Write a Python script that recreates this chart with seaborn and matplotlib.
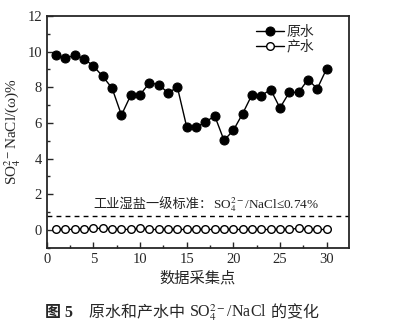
import matplotlib
matplotlib.use("Agg")
import matplotlib.pyplot as plt
from matplotlib.ticker import MultipleLocator
import matplotlib.transforms as mtransforms
import seaborn as sns
import pandas as pd

points = list(range(1, 31))
raw_water = [9.78, 9.64, 9.79, 9.60, 9.18, 8.61, 7.94, 6.44, 7.55, 7.58,
             8.24, 8.15, 7.68, 8.00, 5.77, 5.77, 6.03, 6.40, 5.02, 5.58,
             6.52, 7.58, 7.53, 7.87, 6.84, 7.71, 7.71, 8.43, 7.92, 9.03]
product_water = [0.02, 0.02, 0.03, 0.05, 0.08, 0.08, 0.06, 0.02, 0.03, 0.09,
                 0.02, 0.02, 0.02, 0.02, 0.02, 0.02, 0.02, 0.02, 0.02, 0.02,
                 0.02, 0.02, 0.02, 0.02, 0.02, 0.02, 0.09, 0.02, 0.02, 0.02]
standard = 0.76
series_names = ["原水", "产水"]

sns.set_style("ticks")
plt.rcParams['font.family'] = ['Liberation Serif', 'Noto Sans CJK SC']
plt.rcParams['mathtext.fontset'] = 'stix'

df = pd.DataFrame({"x": points * 2,
                   "y": raw_water + product_water,
                   "s": [series_names[0]] * 30 + [series_names[1]] * 30})

fig = plt.figure(figsize=(3.97, 3.25), dpi=100)
ax = fig.add_axes([0.118, 0.238, 0.761, 0.713])

sns.lineplot(data=df[df.s == series_names[0]], x="x", y="y", ax=ax,
             color="black", lw=1.0, marker="o", markersize=6.5,
             markerfacecolor="black", markeredgecolor="black",
             label=series_names[0])
sns.lineplot(data=df[df.s == series_names[1]], x="x", y="y", ax=ax,
             color="black", lw=1.0, marker="o", markersize=5.5,
             markerfacecolor="white", markeredgecolor="black", markeredgewidth=1.0,
             label=series_names[1])

ax.axhline(standard, color="black", lw=1.0, ls=(0, (3.5, 3)))

ax.set_xlim(0, 32.4)
ax.set_ylim(-1, 12)
ax.xaxis.set_major_locator(MultipleLocator(5))
ax.xaxis.set_minor_locator(MultipleLocator(2.5))
ax.yaxis.set_major_locator(MultipleLocator(2))
ax.yaxis.set_minor_locator(MultipleLocator(1))
ax.tick_params(which="both", direction="in", labelsize=10.5, width=1.0)
ax.tick_params(which="major", length=4)
ax.tick_params(which="minor", length=2.5)
for sp in ax.spines.values():
    sp.set_linewidth(1.3)
    sp.set_visible(True)

ax.set_xlabel("数据采集点", fontsize=11, labelpad=4)
ax.set_ylabel("SO$_4^{2-}$NaCl/(ω)%", fontsize=11, labelpad=3)

ax.legend(loc="upper left", frameon=False, fontsize=10,
          handlelength=2.0, handletextpad=0.2,
          labelspacing=0.1, bbox_to_anchor=(0.66, 1.0), borderpad=0.2)


def text_run(x, y, transform, pieces):
    renderer = fig.canvas.get_renderer()
    offset = 0.0
    for s, kw in pieces:
        tr = transform + mtransforms.Affine2D().translate(offset, 0)
        t = fig.text(x, y, s, transform=tr, ha="left", va="baseline", **kw)
        offset += t.get_window_extent(renderer=renderer).width


text_run(5.0, 1.2, ax.transData, [
    ("工业湿盐一级标准：", dict(fontsize=9.5, color="#222222")),
    ("SO$_4^{2-}$/NaCl≤0.74%", dict(fontsize=9.5, color="#222222")),
])

text_run(0.113, 0.025, fig.transFigure, [
    ("图 5", dict(fontsize=11.5, fontweight="bold")),
    ("    原水和产水中 ", dict(fontsize=11.5)),
    ("SO$_4^{2-}$/NaCl", dict(fontsize=11.5)),
    (" 的变化", dict(fontsize=11.5)),
])

fig.savefig("out.png", dpi=100)
